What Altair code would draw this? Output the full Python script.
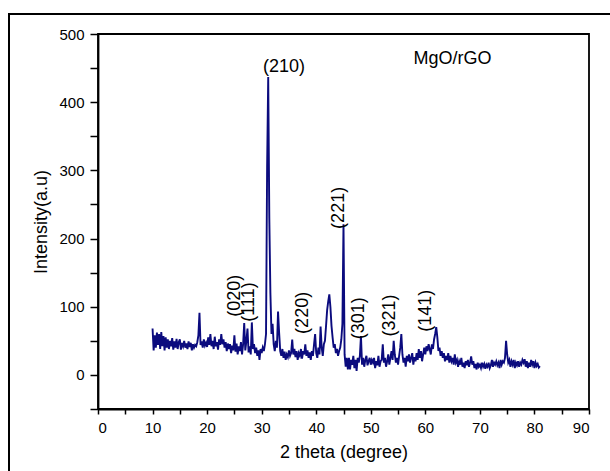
import altair as alt
import pandas as pd

# XRD pattern: 2-theta from 10.0 to 81.0 in 0.2 degree steps
theta_start = 10.0
theta_step = 0.2
intensity = [
    68, 36, 58, 40, 62,   # 10
    44, 60, 38, 63, 42,   # 11
    57, 36, 55, 40, 52,   # 12
    38, 50, 42, 54, 37,   # 13
    49, 40, 53, 38, 48,   # 14
    52, 37, 47, 42, 50,   # 15
    40, 46, 38, 49, 41,   # 16
    47, 36, 45, 40, 44,   # 17
    42, 48, 58, 91, 44,   # 18
    49, 40, 52, 43, 47,   # 19
    41, 55, 44, 60, 42,   # 20
    50, 38, 56, 42, 48,   # 21
    37, 52, 44, 60, 45,   # 22
    52, 40, 48, 35, 46,   # 23
    38, 45, 32, 43, 36,   # 24
    58, 34, 46, 30, 42,   # 25
    35, 48, 30, 45, 76,   # 26
    36, 50, 68, 33, 42,   # 27
    30, 77, 38, 45, 32,   # 28
    40, 28, 36, 22, 38,   # 29
    32, 40, 35, 45, 60,   # 30
    305, 437, 230, 120, 60,  # 31
    75, 45, 35, 50, 40,   # 32
    93, 62, 35, 28, 38,   # 33
    25, 34, 22, 30, 26,   # 34
    36, 28, 32, 52, 30,   # 35
    38, 26, 35, 22, 32,   # 36
    28, 38, 24, 35, 30,   # 37
    45, 28, 36, 25, 33,   # 38
    22, 35, 28, 45, 60,   # 39
    32, 25, 40, 30, 71,   # 40
    40, 28, 45, 50, 72,   # 41
    95, 108, 118, 100, 72,  # 42
    55, 40, 45, 32, 38,   # 43
    28, 35, 40, 52, 75,   # 44
    221, 30, 12, 25, 8,   # 45
    25, 8, 22, 15, 28,    # 46
    10, 22, 6, 25, 18,    # 47
    28, 57, 15, 25, 12,   # 48
    22, 28, 14, 20, 25,   # 49
    15, 22, 18, 25, 10,   # 50
    20, 14, 28, 12, 20,   # 51
    22, 45, 18, 25, 12,   # 52
    20, 30, 15, 25, 35,   # 53
    22, 50, 30, 18, 25,   # 54
    15, 28, 40, 60, 30,   # 55
    18, 25, 12, 28, 20,   # 56
    30, 18, 25, 32, 15,   # 57
    26, 20, 32, 22, 38,   # 58
    25, 35, 20, 30, 40,   # 59
    30, 42, 35, 45, 38,   # 60
    30, 45, 38, 52, 60,   # 61
    70, 55, 35, 40, 28,   # 62
    35, 25, 32, 20, 28,   # 63
    22, 32, 18, 28, 20,   # 64
    25, 15, 30, 18, 22,   # 65
    12, 20, 15, 25, 12,   # 66
    18, 10, 20, 14, 22,   # 67
    12, 18, 27, 15, 20,   # 68
    10, 16, 8, 18, 12,    # 69
    15, 10, 18, 12, 16,   # 70
    9, 15, 12, 18, 10,    # 71
    14, 22, 12, 18, 15,   # 72
    20, 14, 18, 10, 22,   # 73
    15, 20, 18, 25, 50,   # 74
    30, 18, 22, 12, 20,   # 75
    15, 22, 10, 18, 14,   # 76
    20, 12, 18, 15, 22,   # 77
    18, 23, 12, 20, 10,   # 78
    18, 12, 22, 15, 20,   # 79
    10, 18, 13, 16, 11,   # 80
    13,                   # 81
]
two_theta = [round(theta_start + i * theta_step, 1) for i in range(len(intensity))]

# peak annotations
h_labels = ["(210)", "MgO/rGO"]
h_x = [34.1, 65.0]
h_y = [451, 464]

v_labels = ["(020)", "(111)", "(220)", "(221)", "(301)", "(321)", "(141)"]
v_x = [25.1, 27.6, 37.6, 44.2, 47.9, 53.6, 60.2]
v_y = [116, 107, 91, 245, 83, 87, 94]

x_ticks = [0, 5, 10, 15, 20, 25, 30, 35, 40, 45, 50, 55, 60, 65, 70, 75, 80, 85, 90]
y_major = [0, 100, 200, 300, 400, 500]
y_minor = [-50, 50, 150, 250, 350, 450]

FONT = "Liberation Sans"

df = pd.DataFrame({"theta": two_theta, "intensity": intensity})
df_h = pd.DataFrame({"label": h_labels, "x": h_x, "y": h_y})
df_v = pd.DataFrame({"label": v_labels, "x": v_x, "y": v_y})
df_minor = pd.DataFrame({"v": y_minor})

xscale = alt.Scale(domain=[0, 90], nice=False, zero=False)
yscale = alt.Scale(domain=[-50, 500], nice=False, zero=False)

border = alt.Chart(pd.DataFrame({"k": [0]})).mark_rect(
    fillOpacity=0, stroke="black", strokeWidth=2
).encode(
    x=alt.value(-89), x2=alt.value(530), y=alt.value(-20), y2=alt.value(460)
)

line = alt.Chart(df).mark_line(color="#0b0b7e", strokeWidth=1.9).encode(
    x=alt.X("theta:Q", scale=xscale,
            axis=alt.Axis(title="2 theta (degree)", values=x_ticks, orient="bottom",
                          labelExpr="datum.value % 10 === 0 ? datum.label : ''",
                          tickSize=5, labelPadding=6, titlePadding=8)),
    y=alt.Y("intensity:Q", scale=yscale,
            axis=alt.Axis(title="Intensity(a.u)", values=y_major, orient="left",
                          tickSize=8, labelPadding=6, titlePadding=8)),
)

minor = alt.Chart(df_minor).mark_point(opacity=0).encode(
    y=alt.Y("v:Q", scale=yscale,
            axis=alt.Axis(values=y_minor, orient="left", labels=False, title=None,
                          domain=False, tickSize=8)),
)

text_h = alt.Chart(df_h).mark_text(
    font=FONT, fontSize=18, color="black", align="center", baseline="middle"
).encode(x=alt.X("x:Q", scale=xscale, axis=None),
         y=alt.Y("y:Q", scale=yscale, axis=None), text="label:N")

text_v = alt.Chart(df_v).mark_text(
    font=FONT, fontSize=18, color="black", align="center", baseline="middle", angle=270
).encode(x=alt.X("x:Q", scale=xscale, axis=None),
         y=alt.Y("y:Q", scale=yscale, axis=None), text="label:N")

chart = alt.layer(border, line, minor, text_h, text_v).resolve_axis(
    x="independent", y="independent"
).properties(
    width=491, height=375,
    autosize=alt.AutoSizeParams(type="none"),
    padding={"left": 98, "top": 34, "right": 21, "bottom": 62},
).configure(
    background="white"
).configure_view(
    stroke="black", strokeWidth=1.8
).configure_axis(
    grid=False, domainColor="black", domainWidth=1.8, tickColor="black", tickWidth=1.5,
    labelColor="black", titleColor="black", labelFont=FONT, titleFont=FONT,
    labelFontSize=15, titleFontSize=18, titleFontWeight="normal"
)

chart.save("out.html", embed_options={"renderer": "svg", "actions": False})
